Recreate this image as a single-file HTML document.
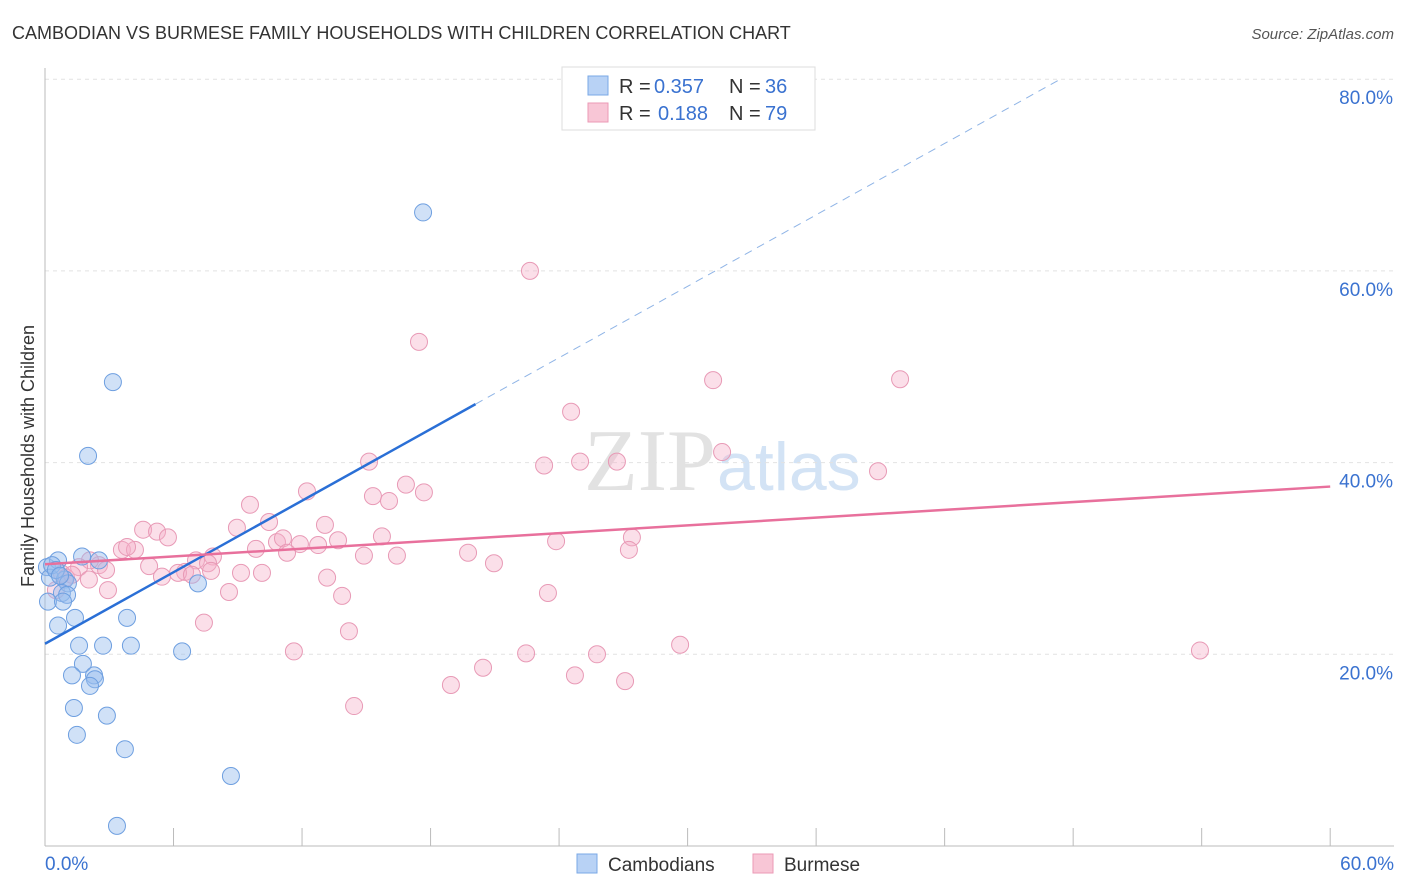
<!DOCTYPE html>
<html><head><meta charset="utf-8"><style>
body{margin:0;background:#fff;font-family:"Liberation Sans",sans-serif;}
svg{display:block}
</style></head><body>
<svg id="c" width="1406" height="892" xmlns="http://www.w3.org/2000/svg">
<text x="12" y="39" font-size="18" fill="#333">CAMBODIAN VS BURMESE FAMILY HOUSEHOLDS WITH CHILDREN CORRELATION CHART</text>
<text x="1394" y="39" font-size="15" fill="#555" font-style="italic" text-anchor="end">Source: ZipAtlas.com</text>
<text x="716" y="490" font-size="88" fill="#e2e2e2" text-anchor="end" font-family="Liberation Serif">ZIP</text>
<text x="717" y="490" font-size="68" fill="#d3e3f5">atlas</text>
<text transform="translate(34,456) rotate(-90)" font-size="18" fill="#333" text-anchor="middle">Family Households with Children</text>
<g id="grid"></g><g id="axes"></g><g id="pts"></g><g id="lines"></g>
<g>
<rect x="562" y="67" width="253" height="63" fill="#fff" stroke="#ddd"/>
<rect x="588" y="76" width="20" height="19" fill="#b8d2f5" stroke="#7aa8e6"/>
<rect x="588" y="103" width="20" height="19" fill="#f8c6d6" stroke="#eb9ab6"/>
<text x="619" y="93" font-size="20" fill="#333">R =</text>
<text x="654" y="93" font-size="20" fill="#3a72d0">0.357</text>
<text x="729" y="93" font-size="20" fill="#333">N =</text>
<text x="765" y="93" font-size="20" fill="#3a72d0">36</text>
<text x="619" y="120" font-size="20" fill="#333">R =</text>
<text x="658" y="120" font-size="20" fill="#3a72d0">0.188</text>
<text x="729" y="120" font-size="20" fill="#333">N =</text>
<text x="765" y="120" font-size="20" fill="#3a72d0">79</text>
</g>
<g>
<rect x="577" y="854" width="20" height="19" fill="#b8d2f5" stroke="#7aa8e6"/>
<text x="608" y="871" font-size="19" fill="#333">Cambodians</text>
<rect x="753" y="854" width="20" height="19" fill="#f8c6d6" stroke="#eb9ab6"/>
<text x="784" y="871" font-size="19" fill="#333">Burmese</text>
</g>
</svg>
<script>
const yTicks=[20,40,60,80];
const xTickLabels=["0.0%","60.0%"];
const blueX=[17.65,3.17,2.01,0.09,0.61,0.23,0.33,0.93,1.07,0.79,1.03,0.14,0.84,1.73,2.52,7.14,1.40,3.83,0.61,1.59,2.71,4.01,6.40,1.77,1.26,2.29,2.33,2.10,1.35,2.89,1.49,3.73,8.68,3.36,0.51,0.70];
const blueY=[66.1,48.4,40.7,29.1,29.8,28.0,29.3,27.8,27.4,26.4,26.2,25.5,25.5,30.2,29.8,27.4,23.8,23.8,23.0,20.9,20.9,20.9,20.3,19.0,17.8,17.8,17.4,16.7,14.4,13.6,11.6,10.1,7.3,2.1,28.8,28.2];
const pinkX=[22.64,17.46,31.19,39.92,24.56,31.61,24.98,26.70,23.30,15.13,38.89,12.23,16.85,17.69,15.31,16.06,9.57,10.46,13.07,8.96,4.58,5.23,5.74,15.73,23.86,27.40,10.83,11.11,11.90,12.75,13.68,9.85,3.59,4.20,3.83,11.30,14.89,16.43,27.26,19.75,7.84,7.05,7.61,4.86,20.96,2.52,2.10,2.85,1.59,0.79,0.98,6.54,7.75,5.46,9.15,10.13,6.21,13.17,2.05,2.94,8.59,13.87,23.48,7.42,14.19,11.62,22.46,25.77,29.65,53.92,20.45,24.74,18.95,27.08,14.43,6.86,0.51,1.26];
const pinkY=[60.0,52.6,48.6,48.7,45.3,41.1,40.1,40.1,39.7,40.1,39.1,37.0,37.7,36.9,36.5,36.0,35.6,33.8,33.5,33.2,33.0,32.8,32.2,32.3,31.8,32.2,31.7,32.1,31.5,31.4,31.9,31.0,30.9,30.9,31.2,30.6,30.3,30.3,30.9,30.6,30.2,29.8,29.5,29.2,29.5,29.3,29.8,28.8,29.1,28.4,28.0,28.6,28.7,28.1,28.5,28.5,28.5,28.0,27.8,26.7,26.5,26.1,26.4,23.3,22.4,20.3,20.1,20.0,21.0,20.4,18.6,17.8,16.8,17.2,14.6,28.3,26.7,28.3];
const blueTrend=[0,21.1,20.1,46.1,47.4,80];
const pinkTrend=[0,29.4,60,37.5];
const sx=v=>45+v*21.42, sy=v=>846-v*9.585;
const NS="http://www.w3.org/2000/svg";
function mk(p,t,a){const e=document.createElementNS(NS,t);for(const k in a)e.setAttribute(k,a[k]);document.getElementById(p).appendChild(e);return e;}
yTicks.forEach(v=>{
 const l=mk('grid','line',{x1:45,x2:1394,y1:sy(v),y2:sy(v),stroke:'#e2e2e2','stroke-dasharray':'4,4'});
 
 
 const t=mk('grid','text',{x:1393,y:sy(v)+25,'font-size':19,fill:'#3a72d0','text-anchor':'end'});
 t.textContent=v.toFixed(1)+'%';
 
 
});
const ax=mk('axes','line',{x1:45,x2:45,y1:68,y2:846,stroke:'#bbb'});


const bx=mk('axes','line',{x1:45,x2:1394,y1:846,y2:846,stroke:'#bbb'});


for(let i=0;i<=10;i++){const t=mk('axes','line',{x1:sx(i*6),x2:sx(i*6),y1:828,y2:846,stroke:'#bbb'});
 
 }
[[0,'start',45],[1,'end',1394]].forEach(([i,a,x])=>{const t=mk('axes','text',{x:x,y:870,'font-size':19,fill:'#3a72d0','text-anchor':a});t.textContent=xTickLabels[i];
 
 });
function pts(X,Y,f,s,n){X.forEach((x,i)=>{const c=mk('pts','circle',{cx:sx(x),cy:sy(Y[i]),r:8.5,fill:f,stroke:s,'stroke-width':1});
 
 });}
pts(pinkX,pinkY,'rgba(246,176,200,0.4)','#e89ab6','burmese-point');
pts(blueX,blueY,'rgba(150,188,238,0.45)','#6e9fe0','cambodian-point');
const b1=mk('lines','line',{x1:sx(blueTrend[0]),y1:sy(blueTrend[1]),x2:sx(blueTrend[2]),y2:sy(blueTrend[3]),stroke:'#2a6fd6','stroke-width':2.5});


const b2=mk('lines','line',{x1:sx(blueTrend[2]),y1:sy(blueTrend[3]),x2:sx(blueTrend[4]),y2:sy(blueTrend[5]),stroke:'#8fb4e6','stroke-width':1,'stroke-dasharray':'8,6'});


const p1=mk('lines','line',{x1:sx(pinkTrend[0]),y1:sy(pinkTrend[1]),x2:sx(pinkTrend[2]),y2:sy(pinkTrend[3]),stroke:'#e8709c','stroke-width':2.5});


</script>
</body></html>
